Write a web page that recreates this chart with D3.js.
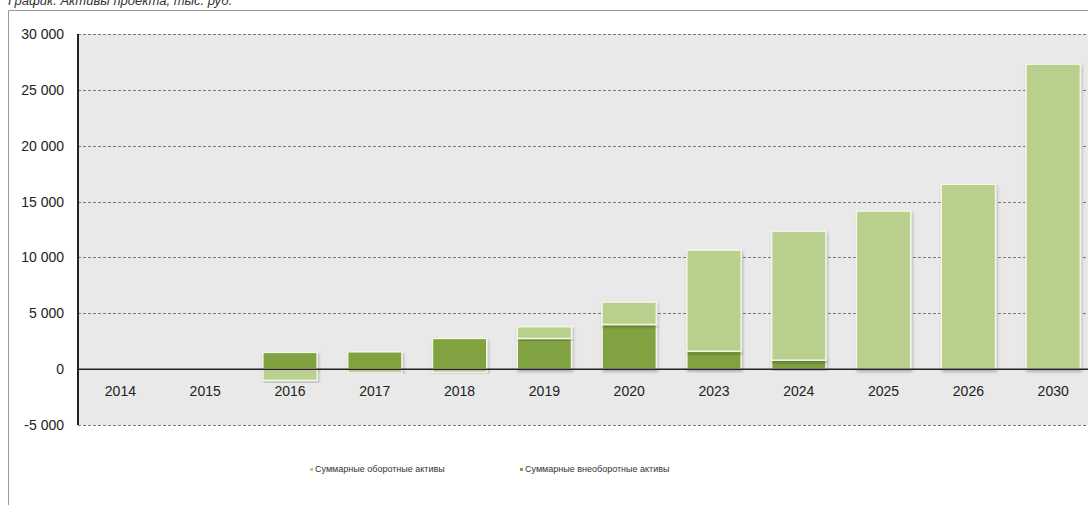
<!DOCTYPE html>
<html>
<head>
<meta charset="utf-8">
<script src="https://cdn.jsdelivr.net/npm/d3@7"></script>
<style>
  body { margin: 0; background: #fff; }
  text { font-family: "Liberation Sans", Arial, sans-serif; }
</style>
</head>
<body>
<svg width="1088" height="505"></svg>
<script>
// categories and series (тыс. руб.)
var years = ["2014", "2015", "2016", "2017", "2018", "2019", "2020", "2023", "2024", "2025", "2026", "2030"];
var currentAssets = [0, 0, -1000, -330, -300, 1050, 2000, 9050, 11550, 14150, 16550, 27300];   // оборотные
var fixedAssets = [0, 0, 1500, 1550, 2750, 2750, 4000, 1600, 800, 0, 0, 0];                     // внеоборотные
var yTicks = [-5000, 0, 5000, 10000, 15000, 20000, 25000, 30000];
var seriesNames = ["Суммарные оборотные активы", "Суммарные внеоборотные активы"];

var cLight = "#b8cf8e", cDark = "#80a23f";

var svg = d3.select("svg"),
  width = +svg.attr("width"),
  height = +svg.attr("height");

// note: "top" is taken by window.top, so use plot* names
var plotL = 78, plotT = 34, plotB = 425, step = 84.8;

var x = d3.scaleBand()
  .domain(years)
  .range([plotL, plotL + step * years.length])
  .paddingInner(0.36)
  .paddingOuter(0.18);

var y = d3.scaleLinear().domain([-5000, 30000]).range([plotB, plotT]);

var ru = d3.formatLocale({decimal: ",", thousands: " ", grouping: [3], currency: ["", ""], minus: "-"});
var fmt = ru.format(",d");

// title (cut at top)
svg.append("text")
  .attr("x", 8).attr("y", 5)
  .attr("font-size", 13).attr("font-style", "italic").attr("fill", "#333")
  .text("График. Активы проекта, тыс. руб.");

// outer frame
svg.append("path")
  .attr("d", "M8.5," + height + "V10.5H" + width)
  .attr("fill", "none").attr("stroke", "#9a9a9a");

// plot background
svg.append("rect")
  .attr("x", plotL).attr("y", plotT)
  .attr("width", width - plotL).attr("height", plotB - plotT)
  .attr("fill", "#e9e9e9");

// grid
svg.append("g")
  .selectAll("line")
  .data(yTicks.filter(d => d !== 0))
  .join("line")
  .attr("x1", plotL).attr("x2", width)
  .attr("y1", d => Math.round(y(d)) + 0.5).attr("y2", d => Math.round(y(d)) + 0.5)
  .attr("stroke", "#7a7a7a").attr("stroke-dasharray", "3,2");

// y labels
svg.append("g")
  .selectAll("text")
  .data(yTicks)
  .join("text")
  .attr("x", 64).attr("y", d => y(d) + 5)
  .attr("text-anchor", "end").attr("font-size", 14).attr("fill", "#222")
  .text(d => fmt(d));

// shadow
var defs = svg.append("defs");
var f = defs.append("filter").attr("id", "sh").attr("x", "-20%").attr("y", "-20%").attr("width", "140%").attr("height", "140%");
f.append("feDropShadow").attr("dx", 1).attr("dy", 2).attr("stdDeviation", 1.5)
  .attr("flood-color", "#000").attr("flood-opacity", 0.25);

// stacked bars
var rows = years.map((yr, i) => ({year: yr, fixed: fixedAssets[i], current: currentAssets[i]}));
var stack = d3.stack().keys(["fixed", "current"]).offset(d3.stackOffsetDiverging);
var layers = stack(rows);
var colorOf = {fixed: cDark, current: cLight};

svg.append("g")
  .selectAll("g")
  .data(layers)
  .join("g")
  .attr("fill", d => colorOf[d.key])
  .selectAll("rect")
  .data(d => d.filter(p => p[1] - p[0] !== 0))
  .join("rect")
  .attr("x", d => x(d.data.year))
  .attr("width", x.bandwidth())
  .attr("y", d => y(Math.max(d[0], d[1])))
  .attr("height", d => Math.abs(y(d[0]) - y(d[1])))
  .attr("stroke", "#f3f6e4").attr("stroke-width", 1.5)
  .attr("filter", "url(#sh)");

// axes lines
svg.append("line")
  .attr("x1", plotL).attr("x2", width)
  .attr("y1", y(0)).attr("y2", y(0))
  .attr("stroke", "#222").attr("stroke-width", 1.5);
svg.append("line")
  .attr("x1", plotL).attr("x2", plotL)
  .attr("y1", plotT).attr("y2", plotB)
  .attr("stroke", "#222").attr("stroke-width", 2);

// category labels
svg.append("g")
  .selectAll("text")
  .data(years)
  .join("text")
  .attr("x", d => x(d) + x.bandwidth() / 2)
  .attr("y", 396)
  .attr("text-anchor", "middle").attr("font-size", 14).attr("fill", "#222")
  .text(d => d);

// legend
var lg = svg.append("g").selectAll("g")
  .data([{name: seriesNames[0], c: cLight, x: 310}, {name: seriesNames[1], c: cDark, x: 520}])
  .join("g")
  .attr("transform", d => "translate(" + d.x + ",472)");
lg.append("rect").attr("x", 0).attr("y", -4).attr("width", 3).attr("height", 3).attr("fill", d => d.c);
lg.append("text").attr("x", 5).attr("y", 0).attr("font-size", 9).attr("fill", "#333").text(d => d.name);
</script>
</body>
</html>
